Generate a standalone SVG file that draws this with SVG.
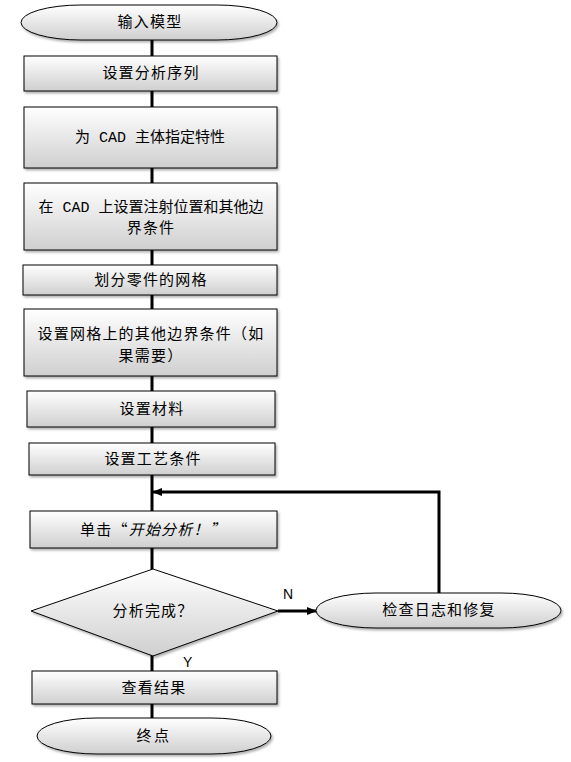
<svg xmlns="http://www.w3.org/2000/svg" width="571" height="762" viewBox="0 0 571 762">
<defs>
<linearGradient id="g" x1="0" y1="0" x2="0" y2="1">
<stop offset="0" stop-color="#ffffff"/>
<stop offset="1" stop-color="#cfcfcf"/>
</linearGradient>
<filter id="sh" x="-10%" y="-10%" width="125%" height="140%">
<feDropShadow dx="1.5" dy="2" stdDeviation="1.2" flood-color="#000" flood-opacity="0.3"/>
</filter>
<marker id="ah" markerWidth="10" markerHeight="10" refX="9" refY="5" orient="auto" markerUnits="userSpaceOnUse">
<path d="M0,1 L10,5 L0,9 Z" fill="#000"/>
</marker>
</defs>
<style>
.n{fill:url(#g);stroke:#000;stroke-width:1;filter:url(#sh)}
.t{font-family:"Noto Sans CJK SC","Liberation Sans",sans-serif;font-size:15px;letter-spacing:1.2px;fill:#000;text-anchor:middle}
.t0{letter-spacing:0}
.m{font-family:"Liberation Mono",monospace}
.c{stroke:#000;stroke-width:3;fill:none}
.l{font-family:"Liberation Sans",Arial,sans-serif;font-size:14px;fill:#000}
</style>
<g id="connectors">
<line class="c" x1="152" y1="40" x2="152" y2="718"/>
<polyline class="c" points="439,593 439,492 153,492" marker-end="url(#ah)"/>
<line class="c" x1="278" y1="611" x2="316" y2="611" marker-end="url(#ah)"/>
<text class="l" x="283" y="599">N</text>
<text class="l" x="183" y="667">Y</text>
</g>
<g id="start"><rect class="n" x="21" y="5" width="256" height="35" rx="60" ry="17.5"/><text class="t" x="150" y="27">输入模型</text></g>
<g id="seq"><rect class="n" x="24" y="56" width="253" height="35"/><text class="t" x="151" y="78">设置分析序列</text></g>
<g id="props"><rect class="n" x="24" y="107" width="253" height="61"/><text class="t t0" x="150" y="142">为<tspan class="m" xml:space="preserve"> CAD </tspan>主体指定特性</text></g>
<g id="inject"><rect class="n" x="24" y="183" width="253" height="67"/><text class="t t0" x="151" y="212">在<tspan class="m" xml:space="preserve"> CAD </tspan>上设置注射位置和其他边</text><text class="t" x="151" y="233">界条件</text></g>
<g id="mesh"><rect class="n" x="23" y="265" width="254" height="30"/><text class="t" x="151" y="285">划分零件的网格</text></g>
<g id="meshbc"><rect class="n" x="24" y="309" width="253" height="67"/><text class="t" x="151" y="339">设置网格上的其他边界条件（如</text><text class="t" x="151" y="361">果需要）</text></g>
<g id="material"><rect class="n" x="27" y="391" width="248" height="36"/><text class="t" x="152" y="414">设置材料</text></g>
<g id="process"><rect class="n" x="29" y="443" width="246" height="32"/><text class="t" x="153" y="464">设置工艺条件</text></g>
<g id="start-analysis"><rect class="n" x="30" y="511" width="247" height="37"/><text class="t" x="153" y="535">单击“<tspan font-style="italic">开始分析！”</tspan></text></g>
<g id="done"><polygon class="n" points="31,611 153,569 278,611 153,656"/><text class="t" x="153" y="616">分析完成？</text></g>
<g id="fix"><rect class="n" x="316" y="593" width="245" height="35" rx="60" ry="17.5"/><text class="t" x="439" y="615">检查日志和修复</text></g>
<g id="result"><rect class="n" x="32" y="671" width="245" height="33"/><text class="t" x="154" y="693">查看结果</text></g>
<g id="end"><rect class="n" x="37" y="718" width="234" height="36" rx="60" ry="18"/><text class="t" x="154" y="741" style="letter-spacing:2.5px">终点</text></g>
</svg>
